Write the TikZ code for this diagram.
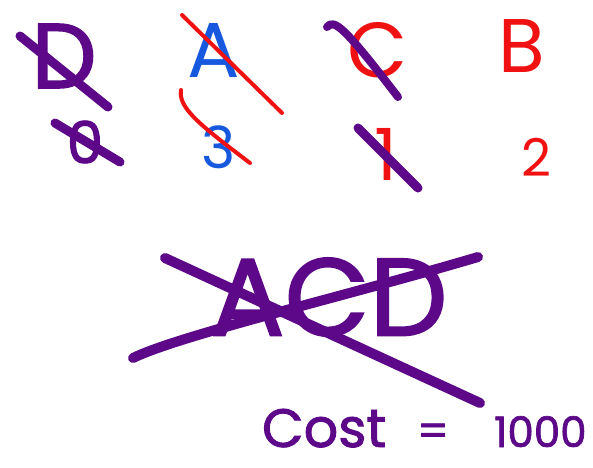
\documentclass[tikz,border=0pt]{standalone}
\usepackage{fontspec}
\setmainfont{Poppins}
\newfontfamily\penfont[FakeBold=1.6]{Poppins}
\definecolor{ink}{RGB}{92,8,136}
\definecolor{pen}{RGB}{240,18,18}
\definecolor{blu}{RGB}{22,88,222}
\tikzset{
  glyph/.style={inner sep=0pt, outer sep=0pt},
  purp/.style={glyph, text=ink, font=\penfont},
  redt/.style={glyph, text=pen},
  bluet/.style={glyph, text=blu},
  thickstrike/.style={draw=ink, line width=9pt, line cap=round, line join=round},
  thinstrike/.style={draw=pen, line width=4pt, line cap=round, line join=round}
}
\newcommand{\fs}[1]{\fontsize{#1}{#1}\selectfont}
\begin{document}
\begin{tikzpicture}[x=1pt,y=-1pt]
\useasboundingbox[fill=white] (0,0) rectangle (593,467);
% top row letters
\node[purp] (D) at (64,56) {\fs{92}D};
\node[bluet] (A) at (214,50) {\fs{78}A};
\node[redt] (C) at (378,50) {\fs{78}C};
\node[redt] (B) at (522,46) {\fs{76}B};
% second row numbers
\node[purp] (n0) at (85,142) {\fs{58}0};
\node[bluet] (n3) at (219,147) {\fs{58}3};
\node[redt] (n1) at (386,154) {\fs{72}1};
\node[redt] (n2) at (536,157) {\fs{52}2};
% strike lines
\coordinate (d1) at (20,36); \coordinate (d2) at (108,107);
\draw[thickstrike] (d1) -- (d2);
\coordinate (z1) at (55,123); \coordinate (z2) at (120,162);
\draw[thickstrike] (z1) -- (z2);
\coordinate (a1) at (182,15); \coordinate (a2) at (282,113);
\draw[thinstrike] (a1) -- (a2);
\coordinate (t1) at (181,90); \coordinate (t2) at (250,163);
\draw[thinstrike] (t1) .. controls (178,108) and (200,125) .. (t2);
\coordinate (c1) at (327,27); \coordinate (c2) at (398,97);
\draw[thickstrike, line width=8pt] (c1) .. controls (334,18) and (345,28) .. (c2);
\coordinate (o1) at (358,128); \coordinate (o2) at (418,188);
\draw[thickstrike] (o1) -- (o2);
% ACD
\node[purp] (ACD) at (329,297) {\fs{110}ACD};
\coordinate (x1) at (165,258); \coordinate (x2) at (480,403);
\draw[thickstrike, line width=10pt] (x1) -- (x2);
\coordinate (y1) at (133,358); \coordinate (y2) at (478,257);
\draw[thickstrike, line width=10pt] (y1) .. controls (180,335) and (350,295) .. (y2);
% cost
\node[purp, anchor=base west] (cost) at (262,447) {\fs{54}Cost};
\node[purp] (eq) at (433,435) {\fs{44}=};
\node[purp, anchor=base west] (val) at (494,447) {\fs{42}1000};
\end{tikzpicture}
\end{document}
